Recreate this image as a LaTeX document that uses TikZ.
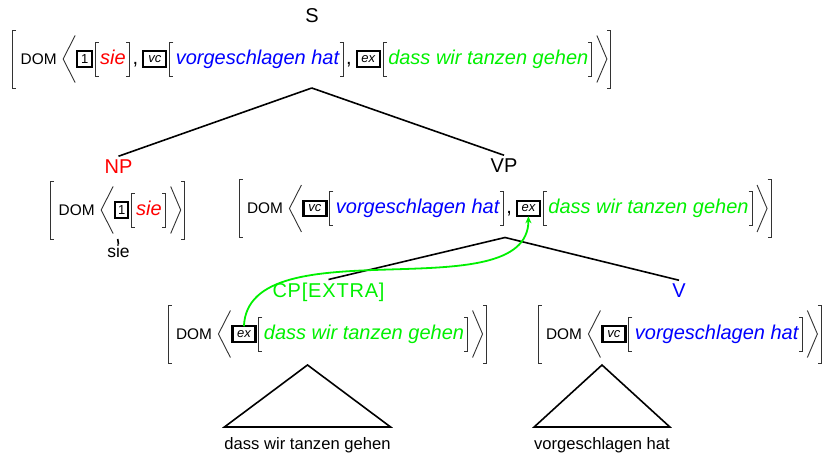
\documentclass[tikz,border=0pt]{standalone}
\usepackage{fontspec}
\setmainfont{Liberation Sans}
\usetikzlibrary{calc,arrows.meta}
\definecolor{cred}{RGB}{255,0,0}
\definecolor{cblue}{RGB}{0,0,255}
\definecolor{cgreen}{RGB}{0,240,0}
\tikzset{
 lab/.style={font=\fontsize{20}{24}\selectfont, inner sep=0pt, outer sep=3pt},
 val/.style={font=\fontsize{20}{24}\selectfont\itshape, inner sep=0pt, outer sep=0pt},
 plain/.style={font=\fontsize{20}{24}\selectfont, inner sep=0pt, outer sep=0pt},
 domf/.style={font=\fontsize{15.4}{18}\selectfont, inner sep=0pt, outer sep=0pt},
 tagbox/.style={draw, line width=2.3pt, minimum width=23pt, minimum height=15.5pt, inner sep=0pt, outer sep=0pt, font=\fontsize{13}{15}\selectfont\itshape},
 numbox/.style={tagbox, minimum width=15pt, font=\fontsize{13}{15}\selectfont},
 pnt/.style={inner sep=0pt, outer sep=0pt, minimum size=0pt},
 brk/.style={line width=0.9pt, draw=black!80},
 edge/.style={line width=1.6pt},
 leaf/.style={font=\fontsize{16.6}{20}\selectfont, inner sep=0pt, outer sep=0pt},
 garrow/.style={draw=cgreen, line width=1.8pt, -{Stealth[length=7pt,width=6pt]}},
}
% text piece: style, name, previous, gap, text
\newcommand\tx[5]{\node[#1,anchor=base west,xshift=#4pt] (#2) at (#3.east |- bl) {#5};}
% tag box: style, name, previous, gap, text
\newcommand\tg[5]{\node[#1,anchor=west,xshift=#4pt] (#2) at (#3.east |- ax) {#5};}
% bracket point: name, previous, gap
\newcommand\pt[3]{\node[pnt,anchor=west,xshift=#3pt] (#1) at (#2.east |- ax) {};}
% angle node: name, previous, gap, width
\newcommand\ang[4]{\node[pnt,minimum width=#4pt,anchor=west,xshift=#3pt] (#1) at (#2.east |- ax) {};}
\newcommand\mylbr[2]{\draw[brk] ([xshift=3.5pt,yshift=#2pt]#1.center) -- ([yshift=#2pt]#1.center) -- ([yshift=-#2pt]#1.center) -- ([xshift=3.5pt,yshift=-#2pt]#1.center);}
\newcommand\myrbr[2]{\draw[brk] ([xshift=-3.5pt,yshift=#2pt]#1.center) -- ([yshift=#2pt]#1.center) -- ([yshift=-#2pt]#1.center) -- ([xshift=-3.5pt,yshift=-#2pt]#1.center);}
\newcommand\mylang[2]{\draw[brk] ([yshift=#2pt]#1.east) -- (#1.west) -- ([yshift=-#2pt]#1.east);}
\newcommand\myrang[2]{\draw[brk] ([yshift=#2pt]#1.west) -- (#1.east) -- ([yshift=-#2pt]#1.west);}
\begin{document}
\begin{tikzpicture}[x=1pt,y=-1pt]
\useasboundingbox (0,0) rectangle (823,455);

% ---------- S ----------
\node[lab,anchor=base] (S) at (312,22) {S};
\coordinate (bl) at (0,64); \coordinate (ax) at (0,59);
\node[pnt] (s0) at (12.7,59) {};
\tx{domf}{s1}{s0}{8}{DOM}
\ang{s2}{s1}{6.5}{12}
\tg{numbox}{s3}{s2}{2}{1}
\pt{s4}{s3}{3}
\tx{val,text=cred}{s5}{s4}{5}{sie}
\pt{s6}{s5}{4}
\tx{plain}{s7}{s6}{3}{,}
\tg{tagbox}{s8}{s7}{5}{vc}
\pt{s9}{s8}{3.5}
\tx{val,text=cblue}{s10}{s9}{6}{vorgeschlagen hat}
\pt{s11}{s10}{4}
\tx{plain}{s12}{s11}{3}{,}
\tg{tagbox}{s13}{s12}{5}{ex}
\pt{s14}{s13}{3.5}
\tx{val,text=cgreen}{s15}{s14}{5}{dass wir tanzen gehen}
\pt{s16}{s15}{3.5}
\ang{s17}{s16}{5}{10}
\pt{s18}{s17}{4}
\mylbr{s0}{29} \mylang{s2}{23.5} \mylbr{s4}{17} \myrbr{s6}{17}
\mylbr{s9}{17} \myrbr{s11}{17} \mylbr{s14}{17} \myrbr{s16}{17}
\myrang{s17}{23.5} \myrbr{s18}{29}
\coordinate (sap) at ($(s0.center)!0.5!(s18.center)+(0,29)$);

% ---------- NP ----------
\node[lab,anchor=base,text=cred] (NP) at (118.5,173) {NP};
\coordinate (bl) at (0,215); \coordinate (ax) at (0,210);
\node[pnt] (n0) at (50.7,210) {};
\tx{domf}{n1}{n0}{8}{DOM}
\ang{n2}{n1}{6.5}{12}
\tg{numbox,minimum width=13pt}{n3}{n2}{2}{1}
\pt{n4}{n3}{3}
\tx{val,text=cred}{n5}{n4}{5}{sie}
\pt{n6}{n5}{4}
\ang{n7}{n6}{5}{10}
\pt{n8}{n7}{4}
\mylbr{n0}{29} \mylang{n2}{23.5} \mylbr{n4}{17} \myrbr{n6}{17}
\myrang{n7}{23.5} \myrbr{n8}{29}
\coordinate (nap) at ($(n0.center)!0.5!(n8.center)+(0,29)$);
\node[leaf,font=\fontsize{17.5}{20}\selectfont,anchor=base] (sie) at (118.5,257) {sie};

% ---------- VP ----------
\node[lab,anchor=base] (VP) at (504,172) {VP};
\coordinate (bl) at (0,213.5); \coordinate (ax) at (0,208.5);
\node[pnt] (v0) at (239,208.5) {};
\tx{domf}{v1}{v0}{8}{DOM}
\ang{v2}{v1}{6.5}{12}
\tg{tagbox}{v3}{v2}{2}{vc}
\pt{v4}{v3}{3.5}
\tx{val,text=cblue}{v5}{v4}{6}{vorgeschlagen hat}
\pt{v6}{v5}{4}
\tx{plain}{v7}{v6}{3}{,}
\tg{tagbox}{v8}{v7}{5}{ex}
\pt{v9}{v8}{3.5}
\tx{val,text=cgreen}{v10}{v9}{5}{dass wir tanzen gehen}
\pt{v11}{v10}{3.5}
\ang{v12}{v11}{5}{10}
\pt{v13}{v12}{4}
\mylbr{v0}{29} \mylang{v2}{23.5} \mylbr{v4}{17} \myrbr{v6}{17}
\mylbr{v9}{17} \myrbr{v11}{17}
\myrang{v12}{23.5} \myrbr{v13}{29}
\coordinate (vap) at ($(v0.center)!0.5!(v13.center)+(0,29)$);

% ---------- CP[EXTRA] ----------
\node[lab,anchor=base,text=cgreen,font=\fontsize{20}{24}\selectfont\addfontfeature{LetterSpace=4}] (CP) at (328.5,297) {CP[EXTRA]};
\coordinate (bl) at (0,339); \coordinate (ax) at (0,334);
\node[pnt] (c0) at (168,334) {};
\tx{domf}{c1}{c0}{8}{DOM}
\ang{c2}{c1}{6.5}{12}
\tg{tagbox}{c3}{c2}{2}{ex}
\pt{c4}{c3}{3.5}
\tx{val,text=cgreen}{c5}{c4}{5}{dass wir tanzen gehen}
\pt{c6}{c5}{3.5}
\ang{c7}{c6}{5}{10}
\pt{c8}{c7}{4}
\mylbr{c0}{29} \mylang{c2}{23.5} \mylbr{c4}{17} \myrbr{c6}{17}
\myrang{c7}{23.5} \myrbr{c8}{29}

% ---------- V ----------
\node[lab,anchor=base,text=cblue] (V) at (679,297) {V};
\coordinate (bl) at (0,339); \coordinate (ax) at (0,334);
\node[pnt] (w0) at (538,334) {};
\tx{domf}{w1}{w0}{8}{DOM}
\ang{w2}{w1}{6.5}{12}
\tg{tagbox}{w3}{w2}{2}{vc}
\pt{w4}{w3}{3.5}
\tx{val,text=cblue}{w5}{w4}{6}{vorgeschlagen hat}
\pt{w6}{w5}{4}
\ang{w7}{w6}{5}{10}
\pt{w8}{w7}{4}
\mylbr{w0}{29} \mylang{w2}{23.5} \mylbr{w4}{17} \myrbr{w6}{17}
\myrang{w7}{23.5} \myrbr{w8}{29}

% ---------- leaves and triangles ----------
\node[leaf,anchor=base] (L1) at (307.5,449) {dass wir tanzen gehen};
\node[leaf,anchor=base] (L2) at (602,449) {vorgeschlagen hat};
\coordinate (t1) at (307.5,365);
\coordinate (t2) at (602,365);
\draw[edge] (t1) -- ([yshift=10pt]L1.north west) -- ([yshift=10pt]L1.north east) -- cycle;
\draw[edge] (t2) -- ([yshift=10pt]L2.north west) -- ([yshift=10pt]L2.north east) -- cycle;

% ---------- tree edges ----------
\draw[edge] (sap) -- (NP.north);
\draw[edge] (sap) -- (VP.north);
\draw[edge] (nap) -- (sie.north);
\draw[edge] (vap) -- (CP.north);
\draw[edge] (vap) -- (V.north);

% ---------- green arrow ----------
\draw[garrow] (c3.north) .. controls +(4,-102) and +(0,96) .. (v8.south);
\end{tikzpicture}
\end{document}
